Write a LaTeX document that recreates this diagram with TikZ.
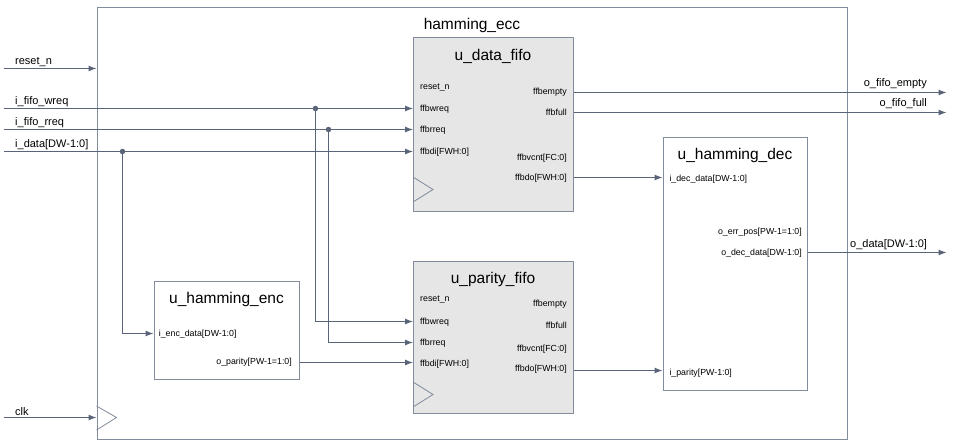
\documentclass[tikz,border=0pt]{standalone}
\usepackage{fontspec}
\setmainfont{Liberation Sans}
\usetikzlibrary{arrows.meta}

\definecolor{wirecol}{HTML}{5A6478}
\definecolor{boxcol}{HTML}{838C9C}
\definecolor{fifofill}{HTML}{E6E6E6}

\tikzset{
  wire/.style={draw=wirecol, line width=1pt},
  sig/.style={wire, -{Latex[length=8pt,width=6pt]}},
  blk/.style={draw=boxcol, line width=1pt, anchor=north west, inner sep=0pt, fill=white},
  fifo/.style={blk, fill=fifofill},
  clktri/.style={draw=boxcol, line width=0.8pt},
  title/.style={font=\fontsize{15.5}{18}\selectfont, anchor=base, inner sep=0pt},
  portl/.style={font=\fontsize{8.8}{10}\selectfont, anchor=base west, inner sep=0pt},
  portr/.style={font=\fontsize{8.8}{10}\selectfont, anchor=base east, inner sep=0pt},
  pin/.style={font=\fontsize{11}{13}\selectfont, anchor=base west, inner sep=0pt},
  pinr/.style={font=\fontsize{11}{13}\selectfont, anchor=base east, inner sep=0pt},
  dot/.style={circle, fill=wirecol, inner sep=0pt, minimum size=5.5pt},
}

\begin{document}
\begin{tikzpicture}[x=1pt, y=-1pt]
    \useasboundingbox (0,0) rectangle (954,444);

    % top level
    \node[blk, minimum width=750pt, minimum height=431pt] (ecc) at (96.5,7.5) {};
    \node[title] (ecctitle) at (472,29.3) {hamming\_ecc};
    \draw[clktri] (96.5,406) -- (116.5,417.5) -- (96.5,430);

    % sub blocks
    \node[fifo, minimum width=160pt, minimum height=173pt] (datafifo) at (413,37.5) {};
    \node[fifo, minimum width=160pt, minimum height=152.5pt] (parityfifo) at (413,260.5) {};
    \node[blk, minimum width=145pt, minimum height=98.5pt] (enc) at (153.5,280.5) {};
    \node[blk, minimum width=144.5pt, minimum height=253pt] (dec) at (662.5,136.5) {};

    \node[title] (datafifotitle) at (493,60.7) {u\_data\_fifo};
    \node[title] (parityfifotitle) at (493,283.3) {u\_parity\_fifo};
    \node[title] (enctitle) at (226.5,303.3) {u\_hamming\_enc};
    \node[title] (dectitle) at (735,159.3) {u\_hamming\_dec};

    \draw[clktri] (413,177) -- (433,189.5) -- (413,202);
    \draw[clktri] (413,382) -- (433,394.5) -- (413,407);

    % port labels
    \node[portl] (df-reset) at (420,90) {reset\_n};
    \node[portl] (df-wreq) at (420,111.3) {ffbwreq};
    \node[portl] (df-rreq) at (420,132.7) {ffbrreq};
    \node[portl] (df-di) at (420,154) {ffbdi[FWH:0]};
    \node[portr] (df-empty) at (567,94.3) {ffbempty};
    \node[portr] (df-full) at (567,115.3) {ffbfull};
    \node[portr] (df-vcnt) at (567,160) {ffbvcnt[FC:0]};
    \node[portr] (df-do) at (567,180.7) {ffbdo[FWH:0]};

    \node[portl] (pf-reset) at (420,301.7) {reset\_n};
    \node[portl] (pf-wreq) at (420,324) {ffbwreq};
    \node[portl] (pf-rreq) at (420,345.7) {ffbrreq};
    \node[portl] (pf-di) at (420,366.7) {ffbdi[FWH:0]};
    \node[portr] (pf-empty) at (567,306.7) {ffbempty};
    \node[portr] (pf-full) at (567,328.3) {ffbfull};
    \node[portr] (pf-vcnt) at (567,351) {ffbvcnt[FC:0]};
    \node[portr] (pf-do) at (567,371.7) {ffbdo[FWH:0]};

    \node[portl] (enc-in) at (158.7,336.7) {i\_enc\_data[DW-1:0]};
    \node[portr] (enc-par) at (292,364.3) {o\_parity[PW-1=1:0]};

    \node[portl] (dec-in) at (669.3,181.7) {i\_dec\_data[DW-1:0]};
    \node[portr] (dec-err) at (802,234.3) {o\_err\_pos[PW-1=1:0]};
    \node[portr] (dec-out) at (802,255) {o\_dec\_data[DW-1:0]};
    \node[portl] (dec-par) at (669.3,375) {i\_parity[PW-1:0]};

    % pins
    \node[pin] (lbl-reset) at (15,64.5) {reset\_n};
    \node[pin] (lbl-wreq) at (15,104.5) {i\_fifo\_wreq};
    \node[pin] (lbl-rreq) at (15,125.5) {i\_fifo\_rreq};
    \node[pin] (lbl-data) at (15,147) {i\_data[DW-1:0]};
    \node[pin] (lbl-clk) at (15,415) {clk};
    \node[pinr] (lbl-empty) at (927,86.7) {o\_fifo\_empty};
    \node[pinr] (lbl-full) at (927,106.7) {o\_fifo\_full};
    \node[pin] (lbl-data-out) at (850,247.7) {o\_data[DW-1:0]};

    \coordinate (in-reset) at (4,68.5);
    \coordinate (in-wreq) at (4,108.5);
    \coordinate (in-rreq) at (4,129.5);
    \coordinate (in-data) at (4,151.5);
    \coordinate (in-clk) at (4,417.5);
    \coordinate (out-empty) at (946.5,92.5);
    \coordinate (out-full) at (946.5,112.5);
    \coordinate (out-data) at (946.5,252.5);

    \node[dot] (wreq-tap) at (315.5,108.5) {};
    \node[dot] (rreq-tap) at (328.5,129.5) {};
    \node[dot] (data-tap) at (122.5,151.5) {};

    % wires
    \draw[sig] (in-reset) -- (ecc.west |- in-reset);
    \draw[sig] (in-clk) -- (ecc.west |- in-clk);
    \draw[sig] (in-wreq) -- (datafifo.west |- in-wreq);
    \draw[sig] (in-rreq) -- (datafifo.west |- in-rreq);
    \draw[sig] (in-data) -- (datafifo.west |- in-data);
    \draw[sig] (wreq-tap.center) |- (parityfifo.west |- 0,321.5);
    \draw[sig] (rreq-tap.center) |- (parityfifo.west |- 0,342.5);
    \draw[sig] (data-tap.center) |- (enc.west |- 0,333.5);
    \draw[sig] (enc.east |- 0,362.5) -- (parityfifo.west |- 0,362.5);
    \draw[sig] (datafifo.east |- out-empty) -- (out-empty);
    \draw[sig] (datafifo.east |- out-full) -- (out-full);
    \draw[sig] (datafifo.east |- 0,177.5) -- (dec.west |- 0,177.5);
    \draw[sig] (parityfifo.east |- 0,370.5) -- (dec.west |- 0,370.5);
    \draw[sig] (dec.east |- out-data) -- (out-data);
\end{tikzpicture}
\end{document}
